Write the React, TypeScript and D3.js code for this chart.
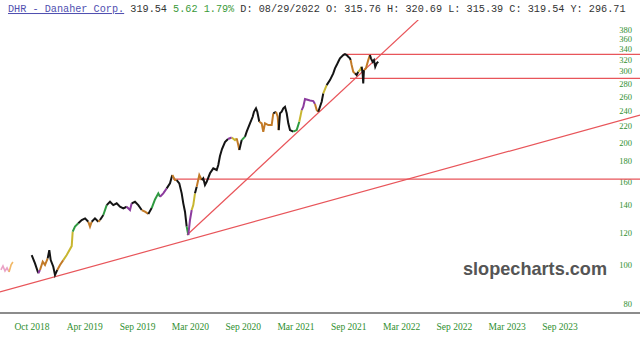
import React from "react";
import * as d3 from "d3";

const W = 640;
const H = 345;

// ---------- data ----------
const xTickLabels = [
  "Oct 2018", "Apr 2019", "Sep 2019", "Mar 2020", "Sep 2020", "Mar 2021",
  "Sep 2021", "Mar 2022", "Sep 2022", "Mar 2023", "Sep 2023",
];
const xTickWeeks = [0, 26, 52, 78, 104, 130, 156, 182, 208, 234, 260];
const yTickValues = [80, 100, 120, 140, 160, 180, 200, 220, 240, 260, 280, 300, 320, 340, 360, 380];

// faded early bars at the left edge: [week, close, colour code]
const stubSeries: [number, number, string][] = [
  [-15.3, 97.1, "pk"], [-14.3, 99.3, "pk"], [-13.3, 96.5, "pk"], [-12.3, 98.2, "pk"],
  [-11.3, 96.0, "lo"], [-10.3, 99.9, "lo"], [-9.4, 101.6, "lo"],
];

// price series: [week index, close, colour code]
const priceSeries: [number, number, string][] = [
  [-0.15, 105.7, "k"], [1.48, 100.8, "k"], [3.1, 95.3, "p"], [3.94, 97.1, "o"], [5.27, 101.8, "o"],
  [6.4, 99.9, "o"], [7.73, 103.7, "k"], [8.52, 108.7, "k"], [9.21, 102.7, "k"], [10.49, 98.9, "k"],
  [11.33, 94.3, "k"], [12.46, 97.1, "o"], [13.79, 99.9, "o"], [15.41, 102.7, "y"], [17.09, 105.7, "y"],
  [19.55, 111.2, "y"],
  [20.04, 120.7, "g"], [21.17, 124.2, "g"], [22.8, 126.6, "k"], [24.47, 129.0, "k"], [26.13, 130.2, "k"],
  [27.72, 127.7, "o"], [28.56, 124.2, "o"], [29.4, 127.7, "k"], [31.02, 130.2, "k"], [32.65, 127.7, "o"],
  [33.48, 129.0, "k"], [35.11, 132.7, "g"], [36.78, 140.4, "k"], [38.41, 143.1, "k"], [40.03, 140.4, "k"],
  [41.71, 141.8, "k"], [43.33, 139.1, "k"], [44.96, 137.8, "k"], [46.63, 139.1, "p"], [48.26, 136.5, "p"],
  [49.09, 141.8, "k"], [50.72, 143.1, "k"], [52.34, 140.4, "k"], [54.02, 136.5, "o"], [55.64, 135.2, "o"],
  [57.27, 133.5, "k"], [58.94, 138.0, "g"], [60.57, 145.0, "g"], [62.19, 150.1, "g"],
  [63.03, 147.2, "p"], [64.65, 150.1, "p"], [66.33, 154.4, "k"], [67.95, 158.9, "k"], [69.08, 166.6, "o"],
  [70.41, 161.9, "o"], [71.25, 161.9, "k"], [72.53, 158.9, "k"], [73.71, 150.1, "k"], [74.5, 141.8, "k"],
  [75.34, 135.2, "k"], [76.17, 124.2, "g"], [76.96, 118.4, "p"], [77.8, 129.0, "p"], [78.64, 136.5, "y"],
  [79.42, 140.4, "y"], [80.26, 150.1, "k"], [81.1, 155.8, "o"], [82.38, 166.6, "o"], [83.56, 161.9, "k"],
  [84.35, 163.5, "k"], [85.18, 157.4, "k"], [86.02, 160.3, "k"], [87.65, 168.2, "k"], [89.27, 173.0, "k"],
  [90.95, 171.4, "k"], [91.73, 176.3, "k"], [92.56, 185.6, "k"], [93.56, 193.1, "k"], [95.03, 200.9, "k"],
  [96.52, 204.4, "p"], [98.34, 206.2, "y"], [99.96, 203.2, "y"], [100.8, 205.2, "o"], [101.58, 197.5, "o"],
  [102.08, 192.0, "k"], [103.26, 203.2, "g"], [104.05, 205.2, "g"], [104.89, 207.1, "k"], [105.72, 213.1, "k"],
  [107.34, 223.5, "k"], [108.67, 232.0, "k"], [109.31, 238.7, "k"], [110.3, 243.4, "k"], [110.94, 238.7, "k"],
  [111.93, 225.5, "o"], [113.1, 223.5, "o"], [113.89, 213.1, "o"], [114.73, 223.5, "o"], [116.35, 221.3, "o"],
  [118.03, 221.3, "o"], [118.82, 236.6, "k"], [120.15, 238.7, "o"], [120.99, 232.0, "o"], [121.48, 215.1, "k"],
  [122.12, 236.6, "k"], [122.96, 238.7, "k"], [123.74, 243.4, "k"], [124.58, 245.6, "k"], [125.42, 236.6, "k"],
  [126.2, 223.5, "k"], [127.04, 215.1, "k"], [128.66, 213.1, "g"], [130.34, 215.1, "g"], [131.62, 225.5, "y"],
  [132.8, 241.0, "p"], [133.59, 245.6, "p"], [134.43, 256.6, "p"], [135.26, 255.9, "p"], [136.89, 254.4, "p"],
  [138.51, 253.7, "p"], [139.35, 249.4, "o"], [140.19, 241.0, "o"], [140.97, 238.7, "k"], [141.81, 245.6, "k"],
  [142.64, 252.7, "k"], [143.43, 265.0, "y"], [145.1, 277.8, "k"], [146.73, 285.8, "k"], [148.35, 296.9, "k"],
  [149.19, 305.5, "k"], [150.03, 311.3, "k"], [150.81, 317.2, "k"], [151.65, 323.4, "k"], [153.27, 329.5, "k"],
  [154.11, 331.4, "k"], [154.95, 329.5, "k"], [155.73, 326.3, "k"], [156.57, 323.4, "k"], [156.91, 320.3, "o"],
  [157.4, 311.3, "o"], [158.19, 299.6, "o"], [159.03, 296.9, "k"], [159.86, 294.1, "k"], [160.65, 299.6, "y"],
  [161.49, 302.6, "y"], [162.32, 308.3, "k"], [162.82, 296.9, "k"], [163.11, 280.5, "k"], [163.46, 302.6, "o"],
  [164.44, 305.5, "o"], [165.58, 320.3, "o"], [166.41, 329.5, "k"], [166.91, 323.4, "k"], [167.74, 317.2, "k"],
  [168.38, 320.3, "k"], [169.02, 308.3, "k"], [169.71, 314.3, "k"], [170.5, 317.2, "k"],
];

// horizontal support / resistance levels
const levelValues = [330.8, 288.6, 162.8];
const levelStartWeeks = [153.1, 156.6, 69.4];

// trend lines: two anchor points each [week, value]
const longTrend: [number, number][] = [[0, 90.1], [260, 206.6]];
const steepTrend: [number, number][] = [[76.3, 118.4], [181.2, 365.5]];

const colorMap: Record<string, string> = {
  k: "#141414",
  o: "#c27a26",
  p: "#8c3b9e",
  g: "#2e9a40",
  y: "#c8b630",
  pk: "#eaa2c6",
  lo: "#f1b866",
};

// ---------- scales ----------
const xScale = d3.scaleLinear().domain([xTickWeeks[0], xTickWeeks[xTickWeeks.length - 1]]).range([32, 560]);
const yScale = d3.scaleLog().domain([80, 380]).range([304, 30]);

const PLOT_TOP = 20;
const PLOT_BOTTOM = 312;

function trendY(anchors: [number, number][], px: number) {
  const [[w1, v1], [w2, v2]] = anchors;
  const w = xScale.invert(px);
  const lnv = Math.log(v1) + ((w - w1) * (Math.log(v2) - Math.log(v1))) / (w2 - w1);
  return yScale(Math.exp(lnv));
}

function runs(series: [number, number, string][]) {
  const out: { color: string; pts: [number, number][] }[] = [];
  for (let i = 0; i < series.length - 1; i++) {
    const c = series[i][2];
    const a: [number, number] = [series[i][0], series[i][1]];
    const b: [number, number] = [series[i + 1][0], series[i + 1][1]];
    const last = out[out.length - 1];
    if (last && last.color === c) last.pts.push(b);
    else out.push({ color: c, pts: [a, b] });
  }
  return out;
}

const lineGen = d3
  .line<[number, number]>()
  .x((d) => xScale(d[0]))
  .y((d) => yScale(d[1]));

export default function App() {
  const priceRuns = runs(priceSeries);
  const stubRuns = runs(stubSeries);
  const steepStartX = xScale(steepTrend[0][0]);
  const serif = "'Liberation Serif', 'Times New Roman', serif";
  const mono = "'Liberation Mono', 'Courier New', monospace";

  return (
    <svg
      width={W}
      height={H}
      style={{ position: "absolute", left: 0, top: 0, background: "#fff" }}
    >
      <defs>
        <clipPath id="plotClip">
          <rect x={0} y={PLOT_TOP} width={W} height={PLOT_BOTTOM - PLOT_TOP} />
        </clipPath>
      </defs>

      {/* header */}
      <text x={8} y={12} fontFamily={mono} fontSize={10.2} fill="#333">
        <tspan fill="#5050b0" style={{ textDecoration: "underline" }}>
          DHR - Danaher Corp.
        </tspan>
        <tspan> 319.54 </tspan>
        <tspan fill="#3a9a3a">5.62 1.79%</tspan>
        <tspan> D: 08/29/2022 O: 315.76 H: 320.69 L: 315.39 C: 319.54 Y: 296.71</tspan>
      </text>

      {/* y tick labels */}
      {yTickValues.map((v) => (
        <text
          key={v}
          x={632}
          y={yScale(v)}
          dy="0.33em"
          textAnchor="end"
          fontFamily={serif}
          fontSize={8.5}
          fill="#2f8f2f"
        >
          {v}
        </text>
      ))}

      <g clipPath="url(#plotClip)">
        {/* horizontal levels */}
        {levelValues.map((v, i) => (
          <line
            key={v}
            x1={xScale(levelStartWeeks[i])}
            x2={W}
            y1={yScale(v)}
            y2={yScale(v)}
            stroke="#e8555a"
            strokeWidth={1.2}
          />
        ))}
        {/* trend lines */}
        <line x1={0} x2={W} y1={trendY(longTrend, 0)} y2={trendY(longTrend, W)} stroke="#e8555a" strokeWidth={1.2} />
        <line
          x1={steepStartX}
          x2={W}
          y1={trendY(steepTrend, steepStartX)}
          y2={trendY(steepTrend, W)}
          stroke="#e8555a"
          strokeWidth={1.2}
        />

        {/* faded stub */}
        {stubRuns.map((r, i) => (
          <path key={"s" + i} d={lineGen(r.pts) || ""} fill="none" stroke={colorMap[r.color]} strokeWidth={1.6} />
        ))}
        {/* price */}
        {priceRuns.map((r, i) => (
          <path
            key={"p" + i}
            d={lineGen(r.pts) || ""}
            fill="none"
            stroke={colorMap[r.color]}
            strokeWidth={2}
            strokeLinejoin="miter"
          />
        ))}
      </g>

      {/* watermark */}
      <text
        x={463}
        y={275}
        fontFamily="'Liberation Sans', Arial, sans-serif"
        fontWeight="bold"
        fontSize={18.5}
        fill="#555"
        textLength={144}
        lengthAdjust="spacingAndGlyphs"
      >
        slopecharts.com
      </text>

      {/* bottom axis line */}
      <line x1={0} x2={W} y1={313} y2={313} stroke="#8c8c8c" strokeWidth={2} />

      {/* x tick labels */}
      {xTickLabels.map((lab, i) => (
        <text
          key={lab}
          x={xScale(xTickWeeks[i])}
          y={330}
          textAnchor="middle"
          fontFamily={serif}
          fontSize={9.5}
          fill="#2f8f2f"
        >
          {lab}
        </text>
      ))}
    </svg>
  );
}
